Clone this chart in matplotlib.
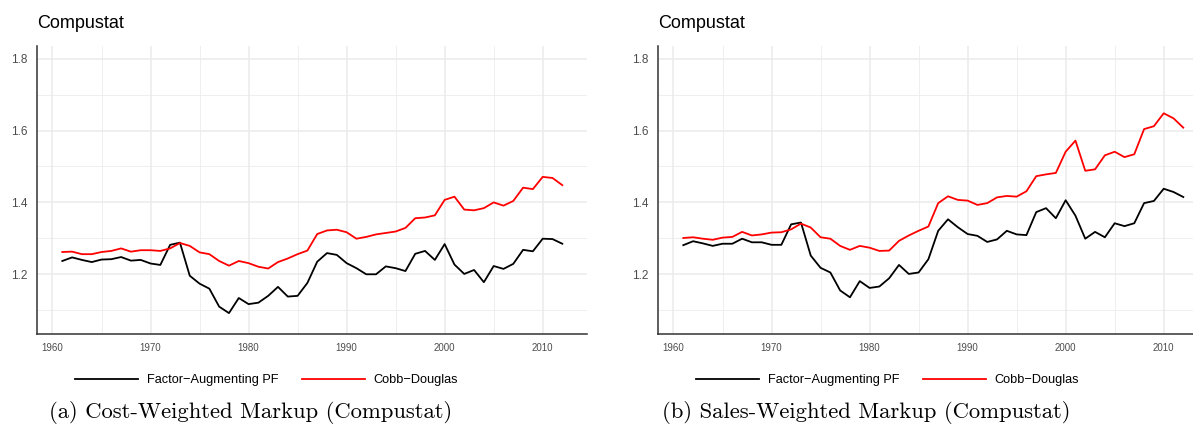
import matplotlib
matplotlib.use("Agg")
import matplotlib.pyplot as plt
from matplotlib.ticker import MultipleLocator

plt.rcParams["font.family"] = ["Liberation Sans", "DejaVu Sans"]

# data
years = list(range(1961, 2013))

cost_fa = [1.237, 1.247, 1.240, 1.234, 1.241, 1.242, 1.248, 1.238, 1.240, 1.230,
           1.226, 1.282, 1.288, 1.196, 1.174, 1.160, 1.110, 1.092, 1.134, 1.117,
           1.121, 1.140, 1.165, 1.138, 1.140, 1.176, 1.235, 1.259, 1.254, 1.231,
           1.217, 1.200, 1.200, 1.222, 1.217, 1.209, 1.257, 1.265, 1.240, 1.284,
           1.227, 1.201, 1.212, 1.178, 1.223, 1.215, 1.229, 1.268, 1.264, 1.299,
           1.298, 1.285]
cost_cd = [1.262, 1.263, 1.256, 1.256, 1.262, 1.265, 1.272, 1.263, 1.267, 1.267,
           1.265, 1.272, 1.287, 1.279, 1.261, 1.256, 1.237, 1.224, 1.237, 1.231,
           1.221, 1.216, 1.234, 1.244, 1.256, 1.266, 1.312, 1.322, 1.324, 1.317,
           1.299, 1.304, 1.311, 1.315, 1.319, 1.329, 1.356, 1.358, 1.364, 1.407,
           1.416, 1.380, 1.378, 1.384, 1.400, 1.391, 1.404, 1.441, 1.437, 1.471,
           1.468, 1.448]

sales_fa = [1.281, 1.292, 1.286, 1.279, 1.285, 1.285, 1.299, 1.289, 1.289, 1.282,
            1.282, 1.339, 1.344, 1.252, 1.218, 1.205, 1.155, 1.136, 1.181, 1.162,
            1.166, 1.189, 1.226, 1.201, 1.205, 1.242, 1.321, 1.353, 1.331, 1.312,
            1.307, 1.290, 1.297, 1.321, 1.311, 1.309, 1.373, 1.384, 1.356, 1.406,
            1.363, 1.299, 1.318, 1.303, 1.342, 1.334, 1.342, 1.398, 1.404, 1.438,
            1.429, 1.415]
sales_cd = [1.301, 1.303, 1.299, 1.296, 1.302, 1.304, 1.318, 1.308, 1.311, 1.316,
            1.317, 1.325, 1.341, 1.330, 1.303, 1.299, 1.279, 1.268, 1.279, 1.274,
            1.265, 1.266, 1.293, 1.308, 1.321, 1.333, 1.398, 1.417, 1.407, 1.405,
            1.393, 1.398, 1.414, 1.418, 1.416, 1.431, 1.473, 1.478, 1.482, 1.541,
            1.572, 1.488, 1.492, 1.531, 1.541, 1.526, 1.534, 1.604, 1.612, 1.648,
            1.634, 1.608]

labels = ["Factor\u2212Augmenting PF", "Cobb\u2212Douglas"]
captions = ["(a) Cost-Weighted Markup (Compustat)",
            "(b) Sales-Weighted Markup (Compustat)"]

W, H = 1193, 432
fig = plt.figure(figsize=(W / 100, H / 100), dpi=100)

panels = [(37.3, cost_fa, cost_cd, 250.7), (658.3, sales_fa, sales_cd, 866.5)]

for (x0, fa, cd, cap_x), cap in zip(panels, captions):
    ax = fig.add_axes([x0 / W, (H - 333.7) / H, 550 / W, 288 / H])
    ax.plot(years, fa, color="black", lw=1.3, label=labels[0])
    ax.plot(years, cd, color="#FF0000", lw=1.3, label=labels[1])

    ax.set_xlim(1958.45, 2014.55)
    ax.set_ylim(1.0347, 1.836)
    ax.xaxis.set_major_locator(MultipleLocator(10))
    ax.xaxis.set_minor_locator(MultipleLocator(5))
    ax.set_yticks([1.2, 1.4, 1.6, 1.8])
    ax.set_yticks([1.1, 1.3, 1.5, 1.7], minor=True)
    ax.set_yticklabels(["1.2", "1.4", "1.6", "1.8"])

    ax.grid(which="major", color="#EBEBEB", lw=1.1)
    ax.grid(which="minor", color="#EBEBEB", lw=0.55)
    ax.set_axisbelow(True)

    for s in ["top", "right"]:
        ax.spines[s].set_visible(False)
    for s in ["left", "bottom"]:
        ax.spines[s].set_color("#333333")
        ax.spines[s].set_linewidth(1.1)

    ax.tick_params(which="both", length=0)
    ax.tick_params(axis="x", labelsize=7, labelcolor="#4D4D4D", pad=7)
    ax.tick_params(axis="y", labelsize=8.5, labelcolor="#4D4D4D", pad=7)

    # legend sits below the panel, a bit left of centre
    leg_x = (266.5 - 37.3) / 550
    ax.legend(loc="center", bbox_to_anchor=(leg_x, -0.161), ncol=2,
              frameon=False, fontsize=9.2, handlelength=4.93,
              handletextpad=0.68, columnspacing=1.85, borderaxespad=0)

    fig.text(x0 / W, (H - 28.3) / H, "Compustat", fontsize=13,
             ha="left", va="baseline")
    fig.text(cap_x / W, (H - 418.3) / H, cap, fontsize=16.3,
             family="cmr10", ha="center", va="baseline")

fig.savefig("out.png", dpi=100)
